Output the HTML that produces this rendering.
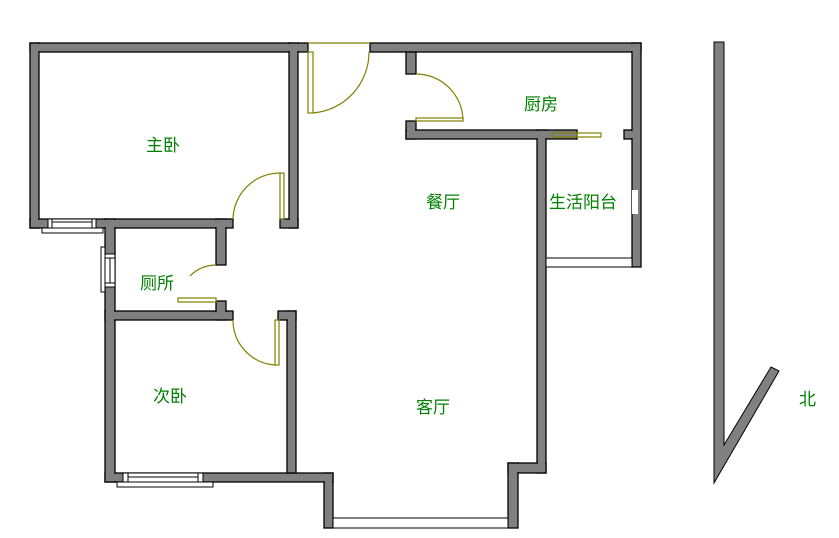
<!DOCTYPE html>
<html><head><meta charset="utf-8"><style>
html,body{margin:0;padding:0;background:#fff;width:839px;height:538px;overflow:hidden}
svg text{font-family:"Liberation Sans","Noto Sans CJK SC",sans-serif;font-size:17px;fill:#008000}
</style></head><body>
<svg width="839" height="538" viewBox="0 0 839 538" xmlns="http://www.w3.org/2000/svg">
<g fill="#808080" stroke="#000" stroke-width="1.3">
<rect x="30" y="43" width="278" height="9"/>
<rect x="370" y="43" width="271" height="9"/>
<rect x="30" y="43" width="9" height="185"/>
<rect x="289" y="43" width="9" height="185"/>
<rect x="280" y="219" width="18" height="9"/>
<rect x="30" y="219" width="203" height="9"/>
<rect x="406" y="52" width="10" height="22"/>
<rect x="406" y="121" width="10" height="18"/>
<rect x="406" y="130" width="171" height="9"/>
<rect x="624" y="130" width="9" height="9"/>
<rect x="632" y="43" width="9" height="224"/>
<rect x="537" y="130" width="9" height="343"/>
<rect x="508" y="463" width="38" height="10"/>
<rect x="508" y="463" width="10" height="65"/>
<rect x="324" y="473" width="9" height="55"/>
<rect x="105" y="473" width="228" height="9"/>
<rect x="105" y="219" width="10" height="263"/>
<rect x="105" y="311" width="128" height="9"/>
<rect x="287" y="311" width="9" height="162"/>
<rect x="278" y="311" width="18" height="9"/>
<rect x="216" y="219" width="10" height="46"/>
<rect x="216" y="301" width="10" height="19"/>
</g>
<g fill="#808080">
<rect x="31" y="44" width="276" height="7"/>
<rect x="371" y="44" width="269" height="7"/>
<rect x="31" y="44" width="7" height="183"/>
<rect x="290" y="44" width="7" height="183"/>
<rect x="281" y="220" width="16" height="7"/>
<rect x="31" y="220" width="201" height="7"/>
<rect x="407" y="53" width="8" height="20"/>
<rect x="407" y="122" width="8" height="16"/>
<rect x="407" y="131" width="169" height="7"/>
<rect x="633" y="44" width="7" height="222"/>
<rect x="625" y="131" width="9" height="7"/>
<rect x="538" y="131" width="7" height="341"/>
<rect x="509" y="464" width="36" height="8"/>
<rect x="509" y="464" width="8" height="63"/>
<rect x="106" y="474" width="226" height="7"/>
<rect x="325" y="474" width="7" height="53"/>
<rect x="106" y="220" width="8" height="261"/>
<rect x="106" y="312" width="126" height="7"/>
<rect x="288" y="312" width="7" height="160"/>
<rect x="279" y="312" width="16" height="7"/>
<rect x="217" y="220" width="8" height="44"/>
<rect x="217" y="302" width="8" height="17"/>
</g>
<!-- windows -->
<g fill="#fff" stroke="#000" stroke-width="1">
<rect x="48" y="219" width="48" height="9"/>
<rect x="42" y="228" width="61" height="5"/>
<line x1="52" y1="219" x2="52" y2="228"/><line x1="92" y1="219" x2="92" y2="228"/>
<line x1="52" y1="222" x2="92" y2="222"/>
<rect x="105" y="254" width="10" height="33"/>
<rect x="101" y="247" width="4" height="45"/>
<line x1="105" y1="258" x2="115" y2="258"/><line x1="105" y1="283" x2="115" y2="283"/>
<line x1="110" y1="258" x2="110" y2="283"/>
<rect x="123" y="473" width="80" height="9"/>
<rect x="117" y="482" width="96" height="5"/>
<line x1="128" y1="473" x2="128" y2="482"/><line x1="198" y1="473" x2="198" y2="482"/>
<line x1="128" y1="477" x2="198" y2="477"/>
<rect x="333" y="518" width="175" height="10"/>
<rect x="546" y="258" width="86" height="9"/>
</g>
<rect x="632" y="190" width="6" height="24" fill="#fff"/>
<g fill="none" stroke="#808000" stroke-width="1.2">
<line x1="308" y1="43" x2="370" y2="43"/>
<rect x="308" y="52" width="5" height="61"/>
<path d="M369,52 A61,61 0 0 1 313,113"/>
<rect x="280" y="173" width="4" height="46"/>
<path d="M280,173 A47,47 0 0 0 233,219"/>
<rect x="416" y="118" width="47" height="3"/>
<path d="M416,74 A47,47 0 0 1 463,121"/>
<rect x="553" y="133" width="24" height="4"/>
<rect x="577" y="133" width="24" height="4"/>
<rect x="275" y="320" width="4" height="45"/>
<path d="M233,320 A45,45 0 0 0 275,365"/>
<rect x="178" y="298" width="38" height="4"/>
<path d="M190,276 A37,37 0 0 1 216,265"/>
</g>
<polygon points="714,42 724,42 724,445 771,367 779,371 714,483" fill="#808080" stroke="#000" stroke-width="1"/>
<text x="146" y="151">主卧</text>
<text x="426" y="208">餐厅</text>
<text x="524" y="110">厨房</text>
<text x="549" y="208">生活阳台</text>
<text x="140" y="289">厕所</text>
<text x="153" y="402">次卧</text>
<text x="416" y="413">客厅</text>
<text x="799" y="405">北</text>
</svg>
</body></html>
